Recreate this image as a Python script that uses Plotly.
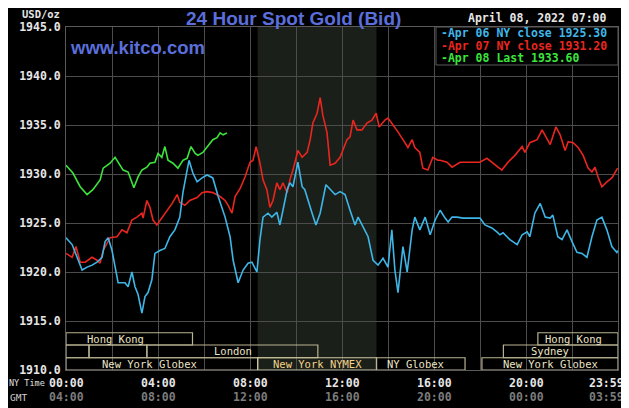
import plotly.graph_objects as go

# minutes after midnight (NY time) and bid price
apr06_min = [0, 16, 29, 42, 55, 68, 81, 94, 102, 110, 120, 128, 136, 154, 162, 172, 180, 188, 198, 206,
             214, 224, 232, 245, 258, 271, 284, 297, 305, 316, 321, 331, 342, 355, 368, 383, 397, 415, 428, 436,
             449, 462, 475, 485, 498, 506, 514, 527, 537, 550, 558, 566, 577, 584, 592, 605, 616, 623, 631, 642,
             652, 663, 678, 689, 702, 715, 728, 741, 754, 762, 775, 788, 801, 814, 827, 840, 850, 858, 866, 879,
             890, 903, 910, 923, 937, 950, 963, 976, 989, 997, 1007, 1020, 1036, 1080, 1093, 1111, 1124, 1132, 1140, 1158,
             1177, 1190, 1203, 1210, 1223, 1237, 1250, 1263, 1270, 1283, 1294, 1307, 1320, 1333, 1346, 1359, 1372, 1385, 1398, 1411,
             1424, 1437, 1439]
apr06_px = [1923.5, 1922.8, 1921.5, 1920.2, 1920.5, 1920.7, 1921.0, 1921.5, 1923.1, 1923.5, 1922.2, 1920.5, 1918.9, 1918.9, 1918.5, 1920.0, 1918.5, 1917.7, 1915.8, 1917.5,
            1917.9, 1919.2, 1921.9, 1922.2, 1922.4, 1923.6, 1924.3, 1925.6, 1928.1, 1930.4, 1931.4, 1930.1, 1929.2, 1929.6, 1929.9, 1929.6, 1927.7, 1925.6, 1923.6, 1921.2,
            1918.9, 1920.2, 1920.9, 1921.0, 1920.0, 1923.3, 1925.6, 1926.0, 1925.6, 1926.1, 1924.8, 1926.3, 1928.4, 1929.1, 1928.7, 1931.2, 1928.7, 1928.4, 1927.3, 1926.0,
            1924.8, 1926.0, 1928.9, 1928.4, 1927.9, 1928.2, 1927.9, 1926.3, 1924.8, 1925.6, 1924.6, 1923.6, 1921.2, 1920.7, 1921.4, 1920.5, 1924.3, 1920.2, 1917.9, 1922.6,
            1920.0, 1924.3, 1925.6, 1924.3, 1925.6, 1923.8, 1925.3, 1926.3, 1925.5, 1925.1, 1925.6, 1925.6, 1925.5, 1925.5, 1924.8, 1924.5, 1924.1, 1923.8, 1924.0, 1923.3,
            1922.8, 1923.8, 1924.1, 1923.6, 1926.0, 1927.0, 1925.6, 1925.5, 1925.8, 1923.6, 1923.3, 1924.3, 1923.1, 1922.0, 1921.9, 1921.5, 1923.6, 1925.3, 1925.6, 1924.3,
            1922.6, 1922.0, 1922.2]

apr07_min = [0, 16, 26, 37, 50, 68, 81, 89, 97, 115, 133, 146, 159, 172, 185, 198, 201, 211, 219, 227,
             237, 250, 263, 277, 290, 297, 310, 323, 342, 355, 368, 383, 402, 415, 423, 433, 441, 454, 467, 480,
             488, 496, 506, 514, 524, 532, 540, 550, 558, 566, 577, 584, 592, 605, 616, 629, 637, 644, 655, 663,
             670, 681, 689, 702, 715, 733, 741, 749, 759, 772, 785, 798, 809, 817, 832, 840, 853, 866, 884, 892,
             903, 910, 923, 931, 944, 957, 970, 976, 994, 1007, 1028, 1080, 1098, 1114, 1137, 1153, 1171, 1190, 1197, 1210,
             1229, 1242, 1255, 1263, 1278, 1289, 1302, 1310, 1323, 1336, 1349, 1362, 1372, 1380, 1388, 1398, 1411, 1424, 1439]
apr07_px = [1921.9, 1921.5, 1922.6, 1921.0, 1921.0, 1921.5, 1921.2, 1920.9, 1922.2, 1923.5, 1923.6, 1924.3, 1924.0, 1925.3, 1925.6, 1926.0, 1925.5, 1927.3, 1926.6, 1925.3,
            1924.8, 1925.5, 1926.3, 1927.0, 1927.9, 1927.1, 1926.8, 1927.3, 1927.6, 1928.1, 1928.2, 1928.1, 1927.7, 1927.3, 1926.8, 1926.0, 1927.7, 1928.5, 1929.7, 1931.2,
            1931.4, 1932.8, 1931.1, 1929.4, 1928.4, 1926.6, 1927.3, 1929.1, 1928.4, 1929.1, 1928.1, 1929.4, 1930.4, 1932.4, 1931.7, 1932.2, 1933.5, 1935.2, 1936.2, 1937.8,
            1936.0, 1934.2, 1930.9, 1931.1, 1931.7, 1933.5, 1933.8, 1935.5, 1934.5, 1934.5, 1935.2, 1935.5, 1936.2, 1934.8, 1935.5, 1935.7, 1935.0, 1934.3, 1933.2, 1932.7,
            1933.5, 1932.7, 1932.2, 1930.6, 1930.4, 1931.7, 1931.4, 1931.4, 1931.2, 1930.7, 1931.2, 1931.2, 1931.6, 1931.1, 1930.4, 1931.2, 1931.9, 1932.8, 1932.2, 1933.2,
            1933.5, 1934.5, 1933.5, 1933.0, 1934.8, 1934.0, 1932.4, 1933.3, 1933.2, 1932.7, 1931.9, 1930.6, 1930.2, 1930.7, 1929.7, 1928.7, 1929.2, 1929.6, 1930.6]

apr08_min = [0, 18, 37, 55, 70, 89, 97, 115, 128, 136, 149, 162, 177, 188, 198, 211, 219, 232, 240, 250,
             258, 266, 279, 292, 305, 316, 326, 337, 344, 357, 370, 383, 394, 402, 410, 420]
apr08_px = [1930.9, 1930.1, 1928.7, 1927.9, 1928.4, 1929.4, 1930.6, 1931.1, 1931.7, 1931.2, 1930.4, 1930.2, 1928.6, 1929.7, 1930.4, 1930.7, 1931.1, 1931.2, 1932.1, 1931.7,
            1932.8, 1931.4, 1931.1, 1930.6, 1931.4, 1931.6, 1932.8, 1932.1, 1931.9, 1932.2, 1932.8, 1933.5, 1933.7, 1934.2, 1934.0, 1934.2]

series_names = ["Apr 06 NY close 1925.30", "Apr 07 NY close 1931.20", "Apr 08 Last 1933.60"]
series_colors = ["#3fb6e8", "#e8261f", "#3ce43c"]

# market sessions: row (1 = top), start, end (minutes NY time), label, label centre
mkt_row = [1, 1, 2, 2, 2, 2, 3, 3, 3, 3]
mkt_start = [0, 1231, 0, 60, 211, 1141, 0, 500, 810, 1085]
mkt_end = [330, 1440, 60, 211, 657, 1440, 500, 810, 1041, 1440]
mkt_label = ["Hong Kong", "Hong Kong", "", "", "London", "Sydney",
             "New York Globex", "New York NYMEX", "NY Globex", "New York Globex"]
mkt_label_at = [128, 1325, 30, 135, 435, 1263, 219, 655, 913, 1263]

nymex_open, nymex_close = 500, 810

ny_ticks = [0, 240, 480, 720, 960, 1200, 1439]
ny_text = ["00:00", "04:00", "08:00", "12:00", "16:00", "20:00", "23:59"]
gmt_text = ["04:00", "08:00", "12:00", "16:00", "20:00", "00:00", "03:59"]

# the page body has an 8px margin, so the figure is 8px smaller and all
# positions below are given in page pixels
W, H = 621, 400
L, R, T, B = 58, 11, 19, 38
MONO = "DejaVu Sans Mono"
SANS = "Liberation Sans"


def px_x(px):
    return (px - 66) / 552


def px_y(py):
    return (370 - py) / 343


fig = go.Figure()
for xs, ys, name, col in [(apr07_min, apr07_px, series_names[1], series_colors[1]),
                          (apr06_min, apr06_px, series_names[0], series_colors[0]),
                          (apr08_min, apr08_px, series_names[2], series_colors[2])]:
    fig.add_trace(go.Scatter(x=xs, y=ys, mode="lines", name=name,
                             line=dict(color=col, width=1.6), hoverinfo="skip"))

shapes = [dict(type="rect", xref="x", yref="paper", x0=nymex_open, x1=nymex_close, y0=0, y1=1,
               fillcolor="#1b1f19", line_width=0, layer="below")]

row_y = {1: (1912.55, 1913.8), 2: (1911.25, 1912.55), 3: (1910.0, 1911.25)}
annotations = []
for r, s, e, lab, at in zip(mkt_row, mkt_start, mkt_end, mkt_label, mkt_label_at):
    y0, y1 = row_y[r]
    nymex = lab.endswith("NYMEX")
    shapes.append(dict(type="rect", xref="x", yref="y", x0=s, x1=e, y0=y0, y1=y1,
                       line=dict(color="#cfc7a0" if nymex else "#b9b491", width=1.2),
                       fillcolor="rgba(0,0,0,0)", layer="above"))
    if lab:
        annotations.append(dict(x=at, y=(y0 + y1) / 2, xref="x", yref="y", text=lab, showarrow=False,
                                font=dict(family=MONO, size=10.5,
                                          color="#f3d38a" if nymex else "#ece4c6")))

# legend box
shapes.append(dict(type="rect", xref="paper", yref="paper", x0=px_x(436), x1=1, y0=px_y(65), y1=1,
                   fillcolor="#000000", line=dict(color="#5a5a5a", width=1), layer="above"))
for i, (name, col) in enumerate(zip(series_names, series_colors)):
    annotations.append(dict(x=px_x(439), y=px_y(33.5 + 12 * i), xref="paper", yref="paper",
                            xanchor="left", yanchor="middle", text="-" + name, showarrow=False,
                            font=dict(family=MONO, size=11.5, color=col, weight="bold")))

# time labels
for t, ny, gmt in zip(ny_ticks, ny_text, gmt_text):
    shift = -11 if t == 1439 else 0
    annotations.append(dict(x=t, y=px_y(383), xref="x", yref="paper", text=ny, showarrow=False,
                            xshift=shift, yanchor="middle",
                            font=dict(family=MONO, size=11.5, color="#e6e6e6", weight="bold")))
    annotations.append(dict(x=t, y=px_y(397), xref="x", yref="paper", text=gmt, showarrow=False,
                            xshift=shift, yanchor="middle",
                            font=dict(family=MONO, size=11.5, color="#7c7c7c", weight="bold")))
annotations.append(dict(x=px_x(47), y=px_y(383), xref="paper", yref="paper", text="NY Time",
                        xanchor="right", yanchor="middle", showarrow=False,
                        font=dict(family=MONO, size=8.5, color="#e0e0e0")))
annotations.append(dict(x=px_x(29), y=px_y(397), xref="paper", yref="paper", text="GMT",
                        xanchor="right", yanchor="middle", showarrow=False,
                        font=dict(family=MONO, size=9.5, color="#d0d0d0")))

# titles
annotations += [
    dict(x=px_x(293), y=px_y(18), xref="paper", yref="paper", text="24 Hour Spot Gold (Bid)",
         showarrow=False, yanchor="middle",
         font=dict(family=SANS, size=19, color="#5b6fdc", weight="bold")),
    dict(x=px_x(68), y=px_y(48), xref="paper", yref="paper", text="www.kitco.com",
         showarrow=False, xanchor="left", yanchor="middle",
         font=dict(family=SANS, size=18.5, color="#5b6fdc", weight="bold")),
    dict(x=px_x(609), y=px_y(18), xref="paper", yref="paper", text="April 08, 2022 07:00",
         showarrow=False, xanchor="right", yanchor="middle",
         font=dict(family=MONO, size=11.5, color="#e6e6e6", weight="bold")),
    dict(x=px_x(62), y=px_y(14), xref="paper", yref="paper", text="USD/oz",
         showarrow=False, xanchor="right", yanchor="middle",
         font=dict(family=MONO, size=10.5, color="#e6e6e6", weight="bold")),
]

fig.update_layout(
    width=W, height=H,
    margin=dict(l=L, r=R, t=T, b=B),
    paper_bgcolor="#000000", plot_bgcolor="#000000",
    showlegend=False,
    shapes=shapes, annotations=annotations,
    xaxis=dict(range=[0, 1440], tickvals=list(range(0, 1441, 120)), showticklabels=False,
               showgrid=True, gridcolor="#4c4c4c", gridwidth=1, zeroline=False,
               showline=True, linecolor="#5a5a5a", mirror=True, ticks=""),
    yaxis=dict(range=[1910, 1945], dtick=5, tickformat=".1f", showgrid=True,
               gridcolor="#4c4c4c", gridwidth=1, zeroline=False,
               showline=True, linecolor="#5a5a5a", mirror=True, ticks="",
               ticklabelstandoff=2,
               tickfont=dict(family=MONO, size=11.5, color="#e6e6e6", weight="bold")),
)

fig.write_html("out.html")
